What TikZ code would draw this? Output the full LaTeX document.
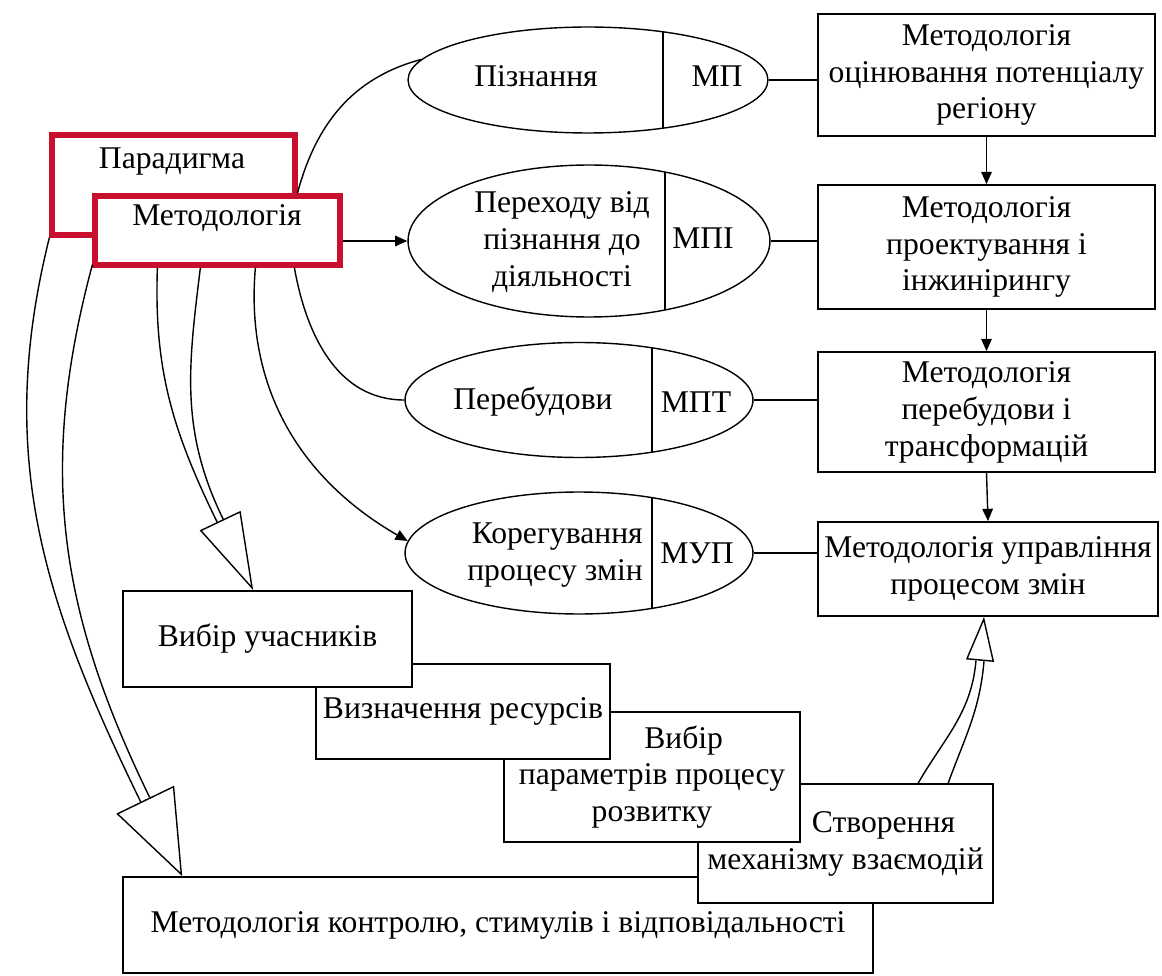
\documentclass[tikz,border=0pt]{standalone}
\usepackage{fontspec}
\setmainfont{Liberation Serif}
\usetikzlibrary{shapes.geometric, arrows.meta, calc}
\definecolor{redline}{RGB}{200,16,46}
\tikzstyle{box} = [rectangle, draw=black, fill=white, line width=1pt, inner sep=0pt, align=center]
\tikzstyle{redbox} = [rectangle, draw=redline, fill=white, line width=3pt, inner sep=0pt]
\tikzstyle{oval} = [ellipse, draw=black, line width=0.8pt, inner sep=0pt]
\tikzstyle{link} = [line width=0.8pt]
\tikzstyle{arrow} = [line width=0.8pt, -{Triangle[length=7pt, width=6pt]}]
\tikzset{split/.style={path picture={\draw[line width=1pt] ([xshift=#1]path picture bounding box.north) -- ([xshift=#1]path picture bounding box.south);}}}

\begin{document}
\begin{tikzpicture}[x=0.02cm, y=-0.02cm, font=\fontsize{18}{21}\selectfont]
    \useasboundingbox (0,0) rectangle (1162,976);

    % paradigm and methodology
    \node (par) [redbox, minimum width=4.86cm, minimum height=2cm] at (173.5,185) {};
    \node (parT) at (172,162) {Парадигма};
    \node (m) [redbox, minimum width=4.9cm, minimum height=1.38cm] at (217.5,230.5) {};
    \node (mT) at (217,218) {Методологія};

    % ellipses
    \node (e1) [oval, split=1.5cm, minimum width=7.2cm, minimum height=2.12cm] at (588,80) {};
    \node (e1a) at (536,76) {Пізнання};
    \node (e1b) at (717,76) {МП};
    \node (e2) [oval, split=1.52cm, minimum width=7.24cm, minimum height=3.04cm] at (589,241) {};
    \node (e2a) [align=center] at (562,242) {Переходу від\\пізнання до\\діяльності};
    \node (e2b) at (703,238) {МПІ};
    \node (e3) [oval, split=1.46cm, minimum width=6.96cm, minimum height=2.3cm] at (579,400) {};
    \node (e3a) at (533,402) {Перебудови};
    \node (e3b) at (696,402) {МПТ};
    \node (e4) [oval, split=1.46cm, minimum width=6.96cm, minimum height=2.44cm] at (579,553) {};
    \node (e4a) [align=right] at (555,555) {Корегування\\процесу змін};
    \node (e4b) at (697,553) {МУП};

    % right column
    \node (b1) [box, minimum width=6.74cm, minimum height=2.44cm] at (986.5,75) {Методологія\\оцінювання потенціалу\\регіону};
    \node (b2) [box, minimum width=6.74cm, minimum height=2.48cm] at (986.5,247) {Методологія\\проектування і\\інжинірингу};
    \node (b3) [box, minimum width=6.74cm, minimum height=2.4cm] at (986.5,412) {Методологія\\перебудови і\\трансформацій};
    \node (b4) [box, minimum width=6.8cm, minimum height=1.88cm] at (988,569) {Методологія управління\\процесом змін};

    % stacked boxes, lowest first
    \node (k) [box, minimum width=15cm, minimum height=1.92cm] at (498,925) {Методологія контролю, стимулів і відповідальності};
    \node (s) [box, minimum width=5.9cm, minimum height=2.38cm] at (845.5,843.5) {\hspace*{2.4em}Створення\\механізму взаємодій};
    \node (p) [box, minimum width=5.92cm, minimum height=2.6cm] at (652,777) {\hspace*{2em}Вибір\\параметрів процесу\\розвитку};
    \node (r) [box, minimum width=5.88cm, minimum height=1.9cm] at (463,711.5) {Визначення ресурсів};
    \node (u) [box, minimum width=5.78cm, minimum height=1.92cm] at (267.5,639) {Вибір учасників};

    % thin connectors
    \draw [link] ($(m.north west)+(205,0)$) to[out=75, in=195] (e1.173);
    \draw [arrow] (e2.west -| m.east) -- (e2.west);
    \draw [link] ($(m.south west)+(202,0)$) to[out=-80, in=180] (e3.west);
    \draw [arrow] ($(m.south west)+(163,0)$) to[out=-95, in=150] (e4.176);
    \draw [link] (e1.east) -- (e1.east -| b1.west);
    \draw [link] (e2.east) -- (e2.east -| b2.west);
    \draw [link] (e3.east) -- (e3.east -| b3.west);
    \draw [link] (e4.east) -- (e4.east -| b4.west);
    \draw [arrow] (b1.south) -- (b2.north);
    \draw [arrow] (b2.south) -- (b3.north);
    \draw [arrow] (b3.south) -- (b4.north);

    % wide hollow arrows
    \coordinate (a1t) at ($(u.north west)+(131,0)$);
    \coordinate (a1b) at ($(a1t)+(-33,-69.5)$);
    \draw [link] ($(m.south west)+(65,0)$) to[out=-92, in=116] ($(a1b)+(-3,1.5)$);
    \draw [link] ($(m.south west)+(108,0)$) to[out=-97, in=116] ($(a1b)+(3,-1.5)$);
    \draw [link, -{Triangle[open, length=1.54cm, width=0.9cm]}] (a1b) -- (a1t);

    \coordinate (a2t) at ($(k.north west)+(60,0)$);
    \coordinate (a2b) at ($(a2t)+(-37,-76.5)$);
    \draw [link] (par.south west) to[out=-104, in=116] ($(a2b)+(-4.5,2.2)$);
    \draw [link] ($(m.south west)+(0,-3)$) to[out=-105, in=116] ($(a2b)+(4.5,-2.2)$);
    \draw [link, -{Triangle[open, length=1.7cm, width=1.28cm]}] (a2b) -- (a2t);

    \coordinate (a3t) at ($(b4.south)+(-4,0)$);
    \coordinate (a3b) at ($(a3t)+(-4,44)$);
    \draw [link] ($(s.north west)+(221,0)$) to[out=60, in=-95] ($(a3b)+(-4,-0.4)$);
    \draw [link] ($(s.north west)+(251,0)$) to[out=70, in=-95] ($(a3b)+(4,0.4)$);
    \draw [link, -{Triangle[open, length=0.88cm, width=0.56cm]}] (a3b) -- (a3t);

\end{tikzpicture}
\end{document}
